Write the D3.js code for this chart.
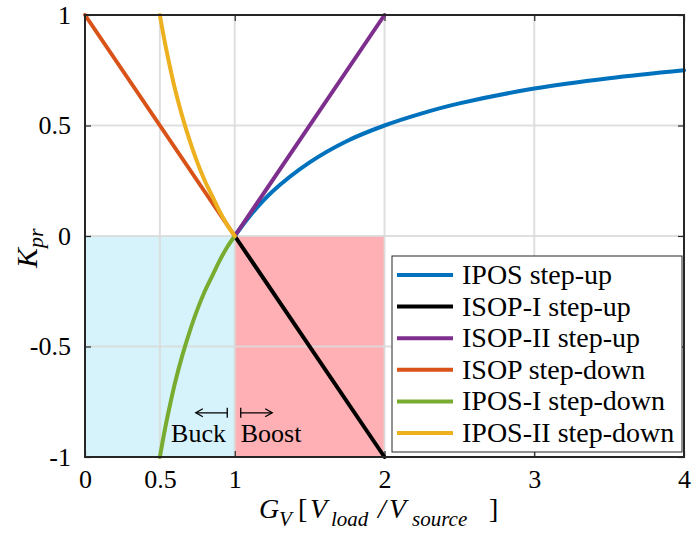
<!DOCTYPE html>
<html>
<head>
<meta charset="utf-8">
<script src="https://cdn.jsdelivr.net/npm/d3@7"></script>
<style>
  body { margin: 0; background: #fff; }
  svg text { font-family: "Liberation Serif", "Times New Roman", serif; fill: #000; }
</style>
</head>
<body>
<svg id="chart"></svg>
<script>
// values
var xTicks = [0, 0.5, 1, 2, 3, 4];
var yTicks = [-1, -0.5, 0, 0.5, 1];
var xGrid = [0.5, 1, 2, 3];
var yGrid = [-0.5, 0, 0.5];

var seriesNames = ["IPOS step-up", "ISOP-I step-up", "ISOP-II step-up",
                   "ISOP step-down", "IPOS-I step-down", "IPOS-II step-down"];
var seriesColors = ["#0072bd", "#000000", "#7e2f8e", "#d95319", "#77ac30", "#edb120"];

var iposUpG = [1, 1.1, 1.25, 1.5, 1.75, 2, 2.25, 2.5, 3, 3.5, 4];
var iposUpK = [0, 0.09, 0.2, 0.333, 0.43, 0.5, 0.555, 0.6, 0.667, 0.714, 0.75];
var isopIUpG = [1, 2];
var isopIUpK = [0, -1];
var isopIIUpG = [1, 2];
var isopIIUpK = [0, 1];
var isopDownG = [0, 1];
var isopDownK = [1, 0];
var iposIDownG = [0.5, 0.525, 0.55, 0.6, 0.65, 0.7, 0.75, 0.8, 0.85, 0.9, 0.95, 1];
var iposIDownK = [-1, -0.905, -0.82, -0.667, -0.54, -0.43, -0.333, -0.25, -0.18, -0.11, -0.05, 0];
var iposIIDownG = [0.5, 0.525, 0.55, 0.6, 0.65, 0.7, 0.75, 0.8, 0.85, 0.9, 0.95, 1];
var iposIIDownK = [1, 0.905, 0.82, 0.667, 0.54, 0.43, 0.333, 0.25, 0.18, 0.11, 0.05, 0];

var buckRegion = [0, 1];
var boostRegion = [1, 2];

var width = 694, height = 536;
var margin = {top: 15, right: 10, bottom: 79, left: 85};
var w = width - margin.left - margin.right;
var h = height - margin.top - margin.bottom;

var svg = d3.select("#chart").attr("width", width).attr("height", height);
var g = svg.append("g").attr("transform", "translate(" + margin.left + "," + margin.top + ")");

var x = d3.scaleLinear().domain([0, 4]).range([0, w]);
var y = d3.scaleLinear().domain([-1, 1]).range([h, 0]);

// shaded buck / boost regions
g.append("rect")
    .attr("x", x(buckRegion[0])).attr("y", y(0))
    .attr("width", x(buckRegion[1]) - x(buckRegion[0])).attr("height", y(-1) - y(0))
    .attr("fill", "#d6f3fc");
g.append("rect")
    .attr("x", x(boostRegion[0])).attr("y", y(0))
    .attr("width", x(boostRegion[1]) - x(boostRegion[0])).attr("height", y(-1) - y(0))
    .attr("fill", "#ffb0b4");

// grid
g.selectAll(".gx").data(xGrid).enter().append("line")
    .attr("x1", function(d) { return x(d); }).attr("x2", function(d) { return x(d); })
    .attr("y1", 0).attr("y2", h)
    .attr("stroke", "#d9d9d9").attr("stroke-opacity", 0.85).attr("stroke-width", 2);
g.selectAll(".gy").data(yGrid).enter().append("line")
    .attr("y1", function(d) { return y(d); }).attr("y2", function(d) { return y(d); })
    .attr("x1", 0).attr("x2", w)
    .attr("stroke", "#d9d9d9").attr("stroke-opacity", 0.85).attr("stroke-width", 2);

// axes
var fmt = function(d) { return String(d); };
var xAxis = g.append("g").attr("transform", "translate(0," + h + ")")
    .call(d3.axisBottom(x).tickValues(xTicks).tickFormat(fmt).tickSizeInner(-6).tickSizeOuter(0).tickPadding(13));
var yAxis = g.append("g")
    .call(d3.axisLeft(y).tickValues(yTicks).tickFormat(fmt).tickSizeInner(-6).tickSizeOuter(0).tickPadding(14));
g.append("g").call(d3.axisTop(x).tickValues(xTicks).tickFormat("").tickSizeInner(-6).tickSizeOuter(0));
g.append("g").attr("transform", "translate(" + w + ",0)")
    .call(d3.axisRight(y).tickValues(yTicks).tickFormat("").tickSizeInner(-6).tickSizeOuter(0));
g.selectAll(".domain").remove();
g.selectAll("g").attr("font-family", null);
g.selectAll(".tick line").attr("stroke", "#262626").attr("stroke-width", 1.2);
g.selectAll(".tick text").style("font-size", "26px").attr("fill", "#262626");
xAxis.selectAll(".tick text").attr("dy", "0.71em");

// curves
var curves = [
  [iposUpG, iposUpK], [isopIUpG, isopIUpK], [isopIIUpG, isopIIUpK],
  [isopDownG, isopDownK], [iposIDownG, iposIDownK], [iposIIDownG, iposIIDownK]
];
var line = d3.line()
    .x(function(d) { return x(d[0]); })
    .y(function(d) { return y(d[1]); })
    .curve(d3.curveCatmullRom);
var plot = g.append("g");
curves.forEach(function(c, i) {
  var pts = c[0].map(function(v, j) { return [v, c[1][j]]; });
  plot.append("path").datum(pts)
      .attr("d", line)
      .attr("fill", "none")
      .attr("stroke", seriesColors[i])
      .attr("stroke-width", 4)
      .attr("stroke-linecap", "round");
});

// box
g.append("rect").attr("x", 0).attr("y", 0).attr("width", w).attr("height", h)
    .attr("fill", "none").attr("stroke", "#262626").attr("stroke-width", 2);

// buck / boost arrows
var ay = y(-0.8);
function arrow(x0, x1, dir) {
  var a = g.append("g").attr("stroke", "#000").attr("stroke-width", 1.3).attr("fill", "none");
  a.append("line").attr("x1", x(x0)).attr("x2", x(x1)).attr("y1", ay).attr("y2", ay);
  var bar = dir < 0 ? x(x1) : x(x0);
  var tip = dir < 0 ? x(x0) : x(x1);
  a.append("line").attr("x1", bar).attr("x2", bar).attr("y1", ay - 5).attr("y2", ay + 5);
  a.append("path").attr("d", "M" + (tip - dir * 7) + "," + (ay - 4) + "L" + tip + "," + ay + "L" + (tip - dir * 7) + "," + (ay + 4));
}
arrow(0.74, 0.95, -1);
arrow(1.04, 1.25, 1);
g.append("text").attr("x", x(0.575)).attr("y", y(-0.93)).style("font-size", "26px").text("Buck");
g.append("text").attr("x", x(1.04)).attr("y", y(-0.93)).style("font-size", "26px").text("Boost");

// legend
var lg = svg.append("g").attr("transform", "translate(392,256)");
lg.append("rect").attr("width", 290).attr("height", 196)
    .attr("fill", "#fff").attr("stroke", "#262626").attr("stroke-width", 1);
seriesNames.forEach(function(name, i) {
  var cy = 19 + i * 31.6;
  lg.append("line").attr("x1", 5).attr("x2", 61).attr("y1", cy).attr("y2", cy)
      .attr("stroke", seriesColors[i]).attr("stroke-width", 4);
  lg.append("text").attr("x", 70).attr("y", cy + 9).style("font-size", "28px").text(name);
});

// axis labels
var xlParts = [
  {t: "G", x: 259, sub: false, it: true},
  {t: "V", x: 279, sub: true, it: true},
  {t: "[", x: 298, sub: false, it: false},
  {t: "V", x: 310, sub: false, it: true},
  {t: "load", x: 331, sub: true, it: true},
  {t: "/", x: 378, sub: false, it: true},
  {t: "V", x: 389, sub: false, it: true},
  {t: "source", x: 412, sub: true, it: true},
  {t: "]", x: 489, sub: false, it: false}
];
xlParts.forEach(function(p) {
  svg.append("text").attr("x", p.x).attr("y", p.sub ? 526 : 518)
      .style("font-size", p.sub ? "21px" : "28px")
      .style("font-style", p.it ? "italic" : "normal")
      .text(p.t);
});

var yl = svg.append("text").attr("transform", "translate(37,268) rotate(-90)").style("font-size", "30px");
yl.append("tspan").style("font-style", "italic").text("K");
yl.append("tspan").style("font-style", "italic").style("font-size", "22px").attr("dy", 6).text("pr");
</script>
</body>
</html>
